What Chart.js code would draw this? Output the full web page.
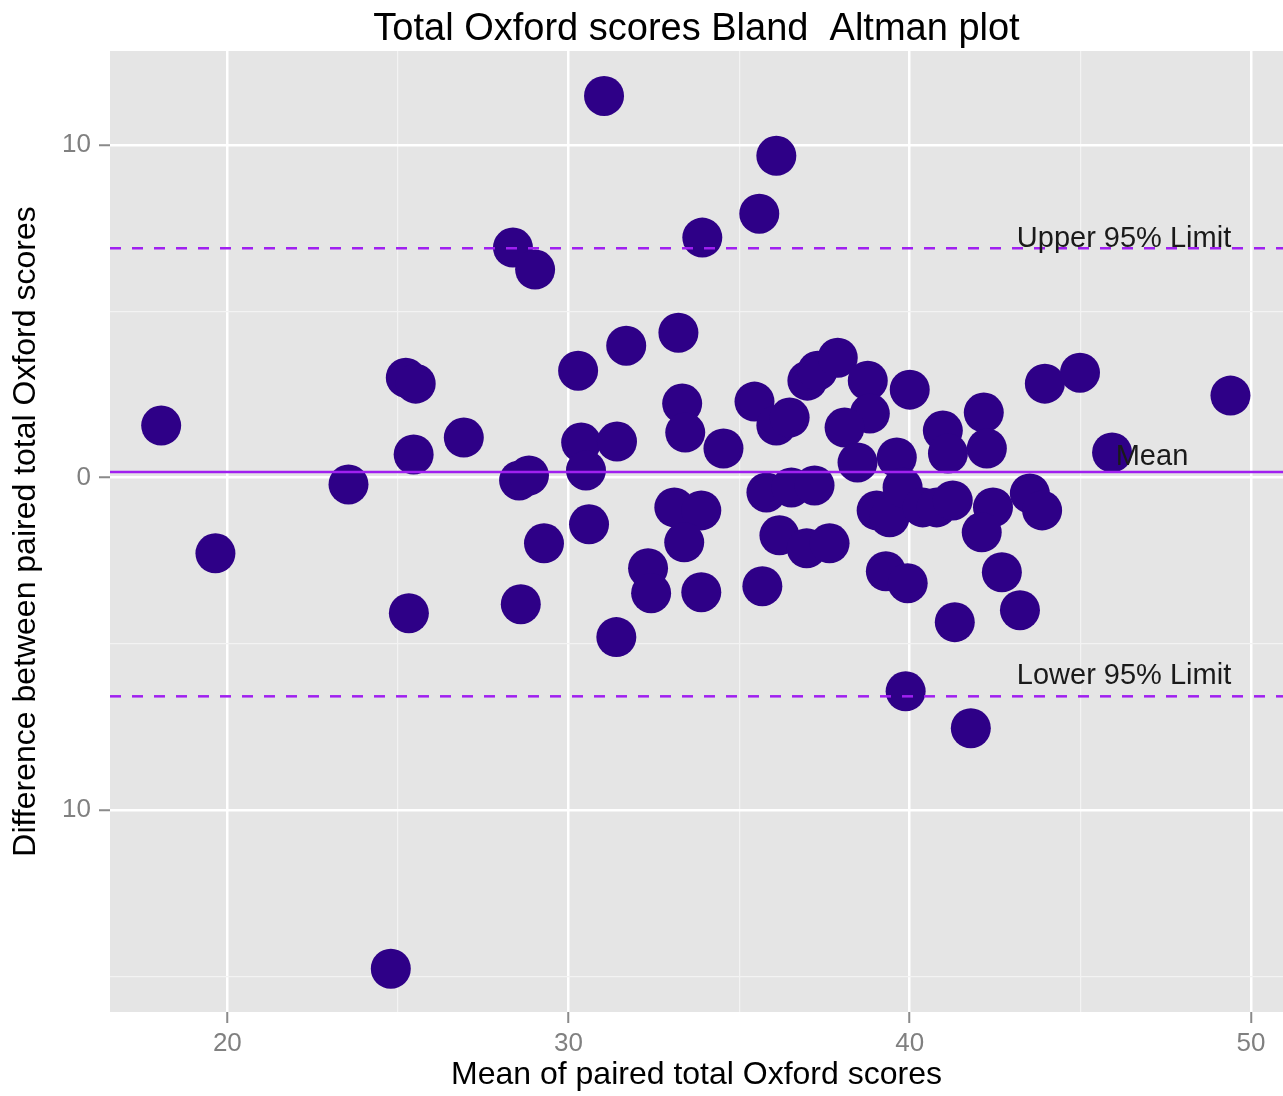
<!DOCTYPE html>
<html>
<head>
<meta charset="utf-8">
<title>Total Oxford scores Bland Altman plot</title>
<script src="https://cdn.jsdelivr.net/npm/chart.js@4.4.1/dist/chart.umd.min.js"></script>
<style>
  html, body { margin: 0; padding: 0; background: #ffffff; }
  #wrap { position: relative; width: 1283px; height: 1096px; }
</style>
</head>
<body>
<div id="wrap"><canvas id="ba-chart"></canvas></div>
<script>
// 每個點：兩次評分的平均 (x) 與差值 (y)
const meanScores = [
  18.06, 19.65, 23.55, 24.79, 25.23, 25.52, 25.46, 25.32, 26.93, 28.37,
  29.02, 28.55, 28.84, 28.60, 29.28, 30.28, 30.37, 31.42, 30.51, 30.60,
  31.40, 31.04, 31.69, 33.22, 33.33, 33.42, 34.54, 33.92, 35.59, 36.09,
  33.10, 33.89, 33.39, 32.33, 32.42, 33.89, 35.45, 36.09, 36.48, 37.00,
  37.30, 37.89, 38.77, 38.83, 38.09, 40.00, 40.97, 41.12, 42.17, 42.26,
  38.47, 39.62, 35.80, 36.53, 37.21, 36.18, 36.98, 37.65, 35.68, 39.03,
  39.41, 39.79, 40.38, 40.79, 41.26, 42.44, 42.11, 43.52, 43.88, 39.30,
  39.94, 42.70, 41.32, 43.23, 43.96, 44.99, 45.93, 49.40, 39.88, 41.79
];
const scoreDiffs = [
  1.56, -2.28, -0.21, -14.77, 3.00, 2.82, 0.69, -4.08, 1.20, 6.91,
  6.25, -0.09, 0.06, -3.81, -1.98, 3.21, 1.05, 1.08, 0.21, -1.41,
  -4.80, 11.47, 3.96, 4.35, 2.22, 1.35, 0.87, 7.21, 7.93, 9.67,
  -0.90, -0.99, -1.95, -2.73, -3.48, -3.45, 2.28, 1.56, 1.80, 2.91,
  3.21, 3.60, 2.91, 1.92, 1.50, 2.64, 1.41, 0.72, 1.95, 0.87,
  0.45, 0.60, -0.45, -0.30, -0.24, -1.74, -2.13, -1.98, -3.27, -0.99,
  -1.20, -0.30, -0.90, -0.90, -0.69, -0.90, -1.65, -0.48, -0.99, -2.82,
  -3.18, -2.85, -4.35, -3.99, 2.82, 3.15, 0.75, 2.46, -6.43, -7.54
];

// 平均差與 95% 一致性界限
const meanDiff = 0.16;
const upperLimit = 6.89;
const lowerLimit = -6.58;

const labelTexts = ['Upper 95% Limit', 'Mean', 'Lower 95% Limit'];
const labelX = [46.28, 47.1, 46.28];
const labelY = [7.18, 0.6, -5.98];

const xRange = [16.56, 50.94];
const yRange = [-16.07, 12.82];
const xGridValues = [20, 25, 30, 35, 40, 45, 50];
const yGridValues = [-15, -10, -5, 0, 5, 10];
const xTickLabels = { 20: '20', 30: '30', 40: '40', 50: '50' };
const yTickLabels = { 10: '10', 0: '0', '-10': '10' };

const chartTitle = 'Total Oxford scores Bland  Altman plot';
const pointColor = '#2e0087';
const limitColor = '#a020f0';
const fontFamily = '"Liberation Sans", Arial, Helvetica, sans-serif';

const isMajor = value => value % 10 === 0;

const panelBackground = {
  id: 'panelBackground',
  beforeDraw(chart) {
    const { ctx, chartArea } = chart;
    ctx.save();
    ctx.fillStyle = '#e5e5e5';
    ctx.fillRect(chartArea.left, chartArea.top, chartArea.right - chartArea.left, chartArea.bottom - chartArea.top);
    ctx.restore();
  }
};

// 標題置中於繪圖區（ggplot 的做法），再加上三條線的文字
const textLayer = {
  id: 'textLayer',
  afterDatasetsDraw(chart) {
    const { ctx, scales, chartArea } = chart;
    ctx.save();
    ctx.textAlign = 'center';
    ctx.textBaseline = 'middle';
    ctx.font = `38px ${fontFamily}`;
    ctx.fillStyle = '#000000';
    ctx.fillText(chartTitle, (chartArea.left + chartArea.right) / 2, 30);

    ctx.font = `29px ${fontFamily}`;
    ctx.fillStyle = '#1a1a1a';
    labelTexts.forEach((text, i) => {
      ctx.fillText(text, scales.x.getPixelForValue(labelX[i]), scales.y.getPixelForValue(labelY[i]));
    });
    ctx.restore();
  }
};

function hLine(value, dash) {
  return {
    type: 'line',
    data: [{ x: xRange[0], y: value }, { x: xRange[1], y: value }],
    borderColor: limitColor,
    borderWidth: 2.5,
    borderDash: dash,
    pointRadius: 0,
    fill: false,
    order: 0
  };
}

function gridOptions() {
  return {
    color: ctx => isMajor(ctx.tick.value) ? '#ffffff' : '#f3f3f3',
    lineWidth: ctx => isMajor(ctx.tick.value) ? 2.5 : 1.2,
    tickColor: ctx => isMajor(ctx.tick.value) ? '#8a8a8a' : 'rgba(0,0,0,0)',
    tickWidth: 2,
    tickLength: 11
  };
}

const ctx = document.getElementById('ba-chart').getContext('2d');
new Chart(ctx, {
  type: 'scatter',
  data: {
    datasets: [
      hLine(upperLimit, [11, 11]),
      hLine(meanDiff, []),
      hLine(lowerLimit, [11, 11]),
      {
        data: meanScores.map((x, i) => ({ x, y: scoreDiffs[i] })),
        backgroundColor: pointColor,
        borderWidth: 0,
        pointRadius: 20,
        order: 1
      }
    ]
  },
  options: {
    responsive: true,
    maintainAspectRatio: false,
    animation: false,
    events: [],
    layout: { autoPadding: false, padding: { top: 51, right: 0, bottom: 0, left: 0 } },
    plugins: {
      legend: { display: false },
      tooltip: { enabled: false },
      title: { display: false }
    },
    scales: {
      x: {
        type: 'linear',
        min: xRange[0],
        max: xRange[1],
        afterBuildTicks: scale => { scale.ticks = xGridValues.map(value => ({ value })); },
        afterFit: scale => {
          scale.height = 84;
          scale.paddingLeft = 0;
          scale.paddingRight = 0;
        },
        border: { display: false },
        grid: gridOptions(),
        ticks: {
          autoSkip: false,
          maxRotation: 0,
          padding: 5,
          color: '#808080',
          font: { family: fontFamily, size: 26 },
          callback: value => xTickLabels[value] || ''
        },
        title: {
          display: true,
          text: 'Mean of paired total Oxford scores',
          color: '#000000',
          font: { family: fontFamily, size: 32, lineHeight: 1 },
          padding: { top: 0, bottom: 5 }
        }
      },
      y: {
        type: 'linear',
        min: yRange[0],
        max: yRange[1],
        afterBuildTicks: scale => { scale.ticks = yGridValues.map(value => ({ value })); },
        afterFit: scale => {
          scale.width = 110;
          scale.paddingTop = 0;
          scale.paddingBottom = 0;
        },
        border: { display: false },
        grid: gridOptions(),
        ticks: {
          autoSkip: false,
          padding: 8,
          color: '#808080',
          font: { family: fontFamily, size: 26 },
          callback: value => yTickLabels[value] || ''
        },
        title: {
          display: true,
          text: 'Difference between paired total Oxford scores',
          color: '#000000',
          font: { family: fontFamily, size: 32, lineHeight: 1 },
          padding: { top: 10, bottom: 0 }
        }
      }
    }
  },
  plugins: [panelBackground, textLayer]
});
</script>
</body>
</html>
